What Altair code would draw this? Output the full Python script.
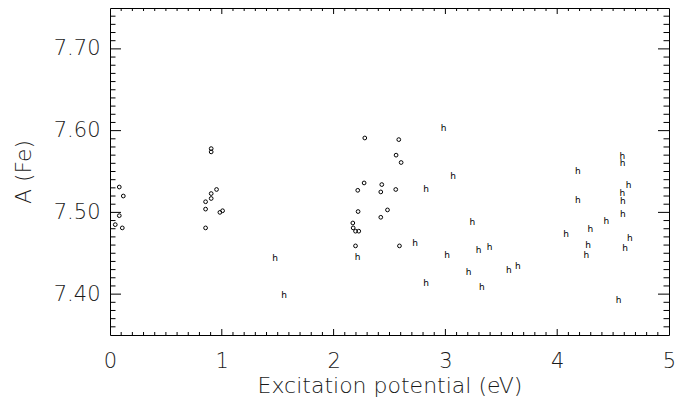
import altair as alt
import pandas as pd

# Fe I lines (circles)
fe1_ep = [0.083, 0.119, 0.083, 0.047, 0.110,
          0.905, 0.905, 0.953, 0.905, 0.905, 0.855, 0.855, 0.983, 1.007, 0.855,
          2.279, 2.583, 2.559, 2.604, 2.273, 2.216, 2.431, 2.422, 2.556, 2.219,
          2.482, 2.422, 2.172, 2.175, 2.196, 2.225, 2.196, 2.589]
fe1_ab = [7.531, 7.520, 7.496, 7.485, 7.481,
          7.578, 7.574, 7.528, 7.523, 7.517, 7.513, 7.504, 7.500, 7.502, 7.481,
          7.591, 7.589, 7.570, 7.561, 7.536, 7.527, 7.534, 7.525, 7.528, 7.501,
          7.503, 7.494, 7.487, 7.481, 7.477, 7.477, 7.459, 7.459]

# Fe II lines ("h" symbols)
fe2_ep = [1.477, 1.558, 2.214, 2.728, 2.827, 2.827, 2.985, 3.068, 3.016, 3.241,
          3.208, 3.298, 3.396, 3.327, 3.567, 3.649, 4.080, 4.184, 4.184, 4.297,
          4.276, 4.260, 4.439, 4.582, 4.584, 4.638, 4.582, 4.587, 4.587, 4.650,
          4.607, 4.549]
fe2_ab = [7.444, 7.399, 7.445, 7.463, 7.528, 7.413, 7.603, 7.545, 7.448, 7.488,
          7.427, 7.454, 7.458, 7.409, 7.429, 7.435, 7.473, 7.551, 7.515, 7.480,
          7.460, 7.448, 7.489, 7.569, 7.560, 7.534, 7.524, 7.514, 7.498, 7.469,
          7.456, 7.393]

x_labels = [0, 1, 2, 3, 4, 5]
y_labels = [7.40, 7.50, 7.60, 7.70]
x_major = [1, 2, 3, 4]
x_minor = [i / 10 for i in range(1, 50) if i % 10]
y_major = [7.40, 7.50, 7.60, 7.70]
y_minor = [round(7.35 + i * 0.01, 2) for i in range(1, 40) if (i + 5) % 10]

W, H = 559, 327
FONT = "DejaVu Sans"
TXT = "#1a1a1a"
XT = "Excitation potential (eV)"
YT = "A (Fe)"

xs = alt.Scale(domain=[0, 5], nice=False, zero=False)
ys = alt.Scale(domain=[7.35, 7.75], nice=False, zero=False)

df1 = pd.DataFrame({"ep": fe1_ep, "ab": fe1_ab})
df2 = pd.DataFrame({"ep": fe2_ep, "ab": fe2_ab})

pts = alt.Chart(df1).mark_point(
    shape="circle", filled=False, size=14, color="black", strokeWidth=1, opacity=1
).encode(
    x=alt.X("ep:Q", scale=xs, title=XT, axis=alt.Axis(
        values=x_labels, format="d", ticks=False, domain=False, grid=False,
        labelFlush=False,
        labelFont=FONT, labelFontSize=21, labelColor=TXT, labelPadding=15,
        labelFontWeight=200,
        titleFont=FONT, titleFontSize=22,
        titleFontWeight=200, titleColor=TXT, titlePadding=4)),
    y=alt.Y("ab:Q", scale=ys, title=YT, axis=alt.Axis(
        values=y_labels, format=".2f", ticks=False, domain=False, grid=False,
        labelFlush=False,
        labelFont=FONT, labelFontSize=21, labelColor=TXT, labelPadding=10,
        labelFontWeight=200,
        titleFont=FONT, titleFontSize=22,
        titleFontWeight=200, titleColor=TXT, titlePadding=18)),
)

hs = alt.Chart(df2).mark_text(
    text="h", font=FONT, fontSize=9, color="black", align="center", baseline="middle"
).encode(
    x=alt.X("ep:Q", scale=xs, title=XT),
    y=alt.Y("ab:Q", scale=ys, title=YT),
)


def xticks(vals, length, top):
    d = pd.DataFrame({"ep": vals})
    return alt.Chart(d).mark_rule(color="black", strokeWidth=1).encode(
        x=alt.X("ep:Q", scale=xs, title=XT),
        y=alt.value(0 if top else H),
        y2=alt.value(length if top else H - length),
    )


def yticks(vals, length, right):
    d = pd.DataFrame({"ab": vals})
    return alt.Chart(d).mark_rule(color="black", strokeWidth=1).encode(
        y=alt.Y("ab:Q", scale=ys, title=YT),
        x=alt.value(W if right else 0),
        x2=alt.value(W - length if right else length),
    )


layers = [
    pts, hs,
    xticks(x_major, 6, False), xticks(x_minor, 3, False),
    xticks(x_major, 6, True), xticks(x_minor, 3, True),
    yticks(y_major, 11, False), yticks(y_minor, 5.5, False),
    yticks(y_major, 11, True), yticks(y_minor, 5.5, True),
]

chart = alt.layer(*layers).properties(
    width=W, height=H,
    autosize=alt.AutoSizeParams(type="none"),
    padding={"left": 102, "top": 0, "right": 12, "bottom": 63},
).configure_view(stroke="black", strokeWidth=1)

chart.save("out.html", embed_options={"renderer": "svg", "actions": False})
